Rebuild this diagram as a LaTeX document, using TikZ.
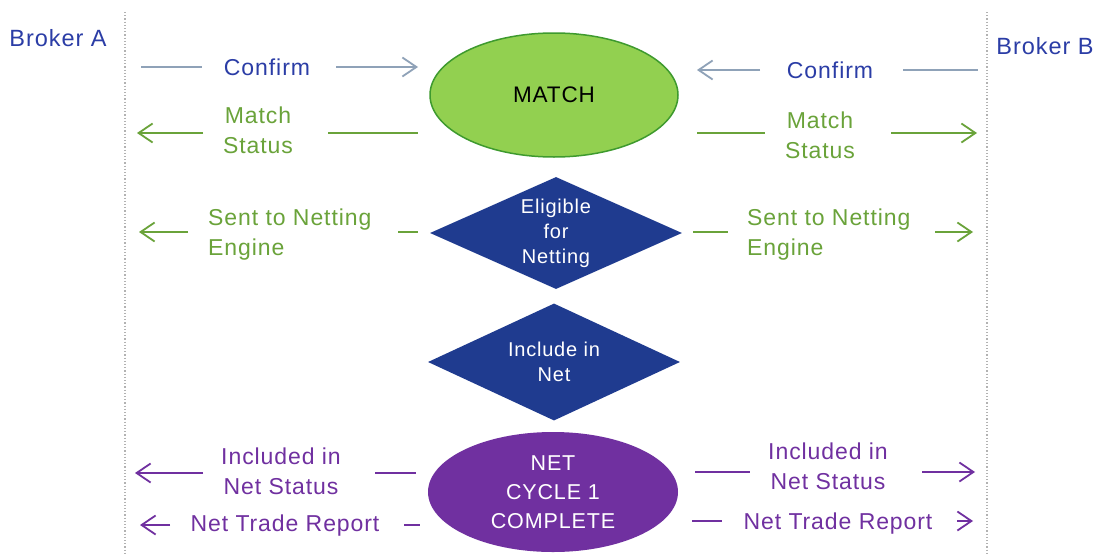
\documentclass[tikz,border=0pt]{standalone}
\usepackage{fontspec}
\setmainfont[LetterSpace=4]{Liberation Sans}
\usetikzlibrary{shapes.geometric,arrows.meta}
\definecolor{bblue}{HTML}{2B3DA6}
\definecolor{agray}{HTML}{8FA2B8}
\definecolor{tgreen}{HTML}{6AA33A}
\definecolor{tpurple}{HTML}{7030A0}
\definecolor{dblue}{HTML}{1F3B8F}
\definecolor{mgreen}{HTML}{92D050}
\definecolor{mgreenb}{HTML}{3E9A2E}
\begin{document}
\begin{tikzpicture}[x=1pt,y=-1pt,
  lbl/.style={font=\fontsize{23}{30}\selectfont, align=center, inner sep=0pt},
  ln/.style={line width=1.8pt},
  tip/.style={line width=1.8pt, -{Straight Barb[length=14pt,width=19pt,line width=1.8pt]}},
  divider/.style={draw=gray!60, dotted, line width=1.2pt}]
\useasboundingbox (0,0) rectangle (1094,554);
\fill[white] (0,0) rectangle (1094,554);
% dividers
\draw[divider] (125,12) -- (125,554);
\draw[divider] (987,12) -- (987,554);
% brokers
\node[lbl, text=bblue, font=\fontsize{23.5}{30}\selectfont] (brokerA) at (58,38) {Broker A};
\node[lbl, text=bblue, font=\fontsize{23.5}{30}\selectfont] (brokerB) at (1045,46) {Broker B};
% central shapes
\node[ellipse, draw=mgreenb, line width=1.5pt, fill=mgreen, minimum width=248pt, minimum height=124pt,
      inner sep=0pt, font=\fontsize{22.5}{30}\selectfont] (match) at (554,95) {MATCH};
\node[diamond, aspect=2.25, fill=dblue, minimum width=252pt, minimum height=112pt, inner sep=0pt,
      text=white, align=center, font=\fontsize{20}{25}\selectfont] (elig) at (556,233) {Eligible\\for\\Netting};
\node[diamond, aspect=2.25, fill=dblue, minimum width=252pt, minimum height=117pt, inner sep=0pt,
      text=white, align=center, font=\fontsize{20}{25}\selectfont] (incl) at (554,362) {Include in\\Net};
\node[ellipse, fill=tpurple, minimum width=250pt, minimum height=120pt, inner sep=0pt,
      text=white, align=center, font=\fontsize{21.5}{29}\selectfont] (net) at (553,492) {NET\\CYCLE 1\\COMPLETE};
% row 1 : Confirm
\node[lbl, text=bblue] (confA) at (267,67) {Confirm};
\coordinate (c1a) at (141,67); \coordinate (c1b) at (202,67);
\coordinate (c1c) at (336,67); \coordinate (c1d) at (418,67);
\draw[ln, agray] (c1a) -- (c1b);
\draw[tip, agray] (c1c) -- (c1d);
\node[lbl, text=bblue] (confB) at (830,70) {Confirm};
\coordinate (c1e) at (760,70); \coordinate (c1f) at (697,70);
\coordinate (c1g) at (903,70); \coordinate (c1h) at (978,70);
\draw[tip, agray] (c1e) -- (c1f);
\draw[ln, agray] (c1g) -- (c1h);
% row 2 : Match Status
\node[lbl, text=tgreen] (msA) at (258,130) {Match\\Status};
\coordinate (c2a) at (203,133); \coordinate (c2b) at (137,133);
\coordinate (c2c) at (328,133); \coordinate (c2d) at (418,133);
\draw[tip, tgreen] (c2a) -- (c2b);
\draw[ln, tgreen] (c2c) -- (c2d);
\node[lbl, text=tgreen] (msB) at (820,135) {Match\\Status};
\coordinate (c2e) at (697,133); \coordinate (c2f) at (765,133);
\coordinate (c2g) at (891,133); \coordinate (c2h) at (977,133);
\draw[ln, tgreen] (c2e) -- (c2f);
\draw[tip, tgreen] (c2g) -- (c2h);
% row 3 : Sent to Netting Engine
\node[lbl, text=tgreen, align=left, anchor=west] (stA) at (208,235) {Sent to Netting\\Engine};
\coordinate (c3a) at (188,232); \coordinate (c3b) at (139,232);
\coordinate (c3c) at (398,232); \coordinate (c3d) at (418,232);
\draw[tip, tgreen] (c3a) -- (c3b);
\draw[ln, tgreen] (c3c) -- (c3d);
\node[lbl, text=tgreen, align=left, anchor=west] (stB) at (747,235) {Sent to Netting\\Engine};
\coordinate (c3e) at (693,232); \coordinate (c3f) at (728,232);
\coordinate (c3g) at (935,232); \coordinate (c3h) at (973,232);
\draw[ln, tgreen] (c3e) -- (c3f);
\draw[tip, tgreen] (c3g) -- (c3h);
% row 5 : Included in Net Status
\node[lbl, text=tpurple] (inA) at (281,471) {Included in\\Net Status};
\coordinate (c5a) at (203,473); \coordinate (c5b) at (135,473);
\coordinate (c5c) at (375,473); \coordinate (c5d) at (416,473);
\draw[tip, tpurple] (c5a) -- (c5b);
\draw[ln, tpurple] (c5c) -- (c5d);
\node[lbl, text=tpurple] (inB) at (828,466) {Included in\\Net Status};
\coordinate (c5e) at (695,472); \coordinate (c5f) at (750,472);
\coordinate (c5g) at (922,472); \coordinate (c5h) at (975,472);
\draw[ln, tpurple] (c5e) -- (c5f);
\draw[tip, tpurple] (c5g) -- (c5h);
% row 6 : Net Trade Report
\node[lbl, text=tpurple] (ntA) at (285,526) {Net Trade Report};
\coordinate (c6a) at (170,525); \coordinate (c6b) at (140,525);
\coordinate (c6c) at (404,525); \coordinate (c6d) at (420,525);
\draw[tip, tpurple] (c6a) -- (c6b);
\draw[ln, tpurple] (c6c) -- (c6d);
\node[lbl, text=tpurple] (ntB) at (838,524) {Net Trade Report};
\coordinate (c6e) at (692,521); \coordinate (c6f) at (722,521);
\coordinate (c6g) at (957,521); \coordinate (c6h) at (973,521);
\draw[ln, tpurple] (c6e) -- (c6f);
\draw[tip, tpurple] (c6g) -- (c6h);
\end{tikzpicture}
\end{document}
